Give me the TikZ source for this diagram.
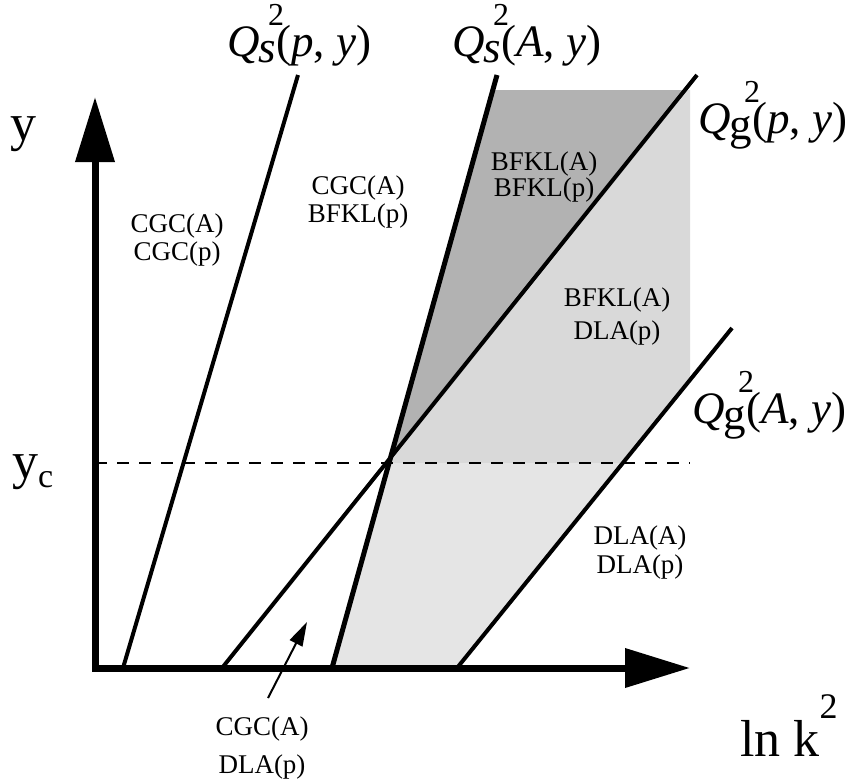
\documentclass[tikz,border=0pt]{standalone}
\usepackage{amsmath}
\usepackage{fontspec}
\setmainfont{Liberation Serif}
\usetikzlibrary{arrows.meta}
\definecolor{darkband}{gray}{0.70}
\definecolor{upperband}{gray}{0.85}
\definecolor{lowerband}{gray}{0.90}
\newcommand{\scalesq}{\rlap{\kern-8pt\raisebox{0.68em}{\fontsize{32}{32}\selectfont 2}}}
\newcommand{\qscale}[2]{\textit{Q}\kern-1pt\raisebox{-0.15em}{#1}\scalesq(#2)}
\tikzset{
  regime/.style={font=\fontsize{27}{28}\selectfont, align=center, inner sep=0pt},
  scalelabel/.style={font=\fontsize{45}{50}\selectfont, anchor=base west, inner sep=0pt},
  axislabel/.style={font=\fontsize{52}{56}\selectfont, anchor=base west, inner sep=0pt},
  boundary/.style={line width=4pt},
  axis/.style={line width=7pt, {Triangle[length=65pt,width=38pt]}-{Triangle[length=65pt,width=38pt]}},
  pointer/.style={line width=2pt, -{Triangle[length=24pt,width=14pt]}}
}

\begin{document}
\begin{tikzpicture}[x=1pt, y=-1pt]
  \useasboundingbox (0,0) rectangle (849,780);

  % shaded regions
  \fill[darkband] (387.5,463) -- (492.8,90) -- (685,90) -- cycle;
  \fill[upperband] (387.5,463) -- (685,90) -- (690,90) -- (690,380) -- (623,463) -- cycle;
  \fill[lowerband] (387.5,463) -- (332,668) -- (457,668) -- (623,463) -- cycle;

  % y_c level
  \draw[line width=1.5pt, dash pattern=on 12pt off 10pt] (95,463) -- (690,463);

  % saturation and geometric scaling lines
  \coordinate (qspBot) at (123,668);
  \coordinate (qspTop) at (298,75);
  \coordinate (qsaBot) at (332,668);
  \coordinate (qsaTop) at (497,75);
  \coordinate (qgpBot) at (222,668);
  \coordinate (qgpTop) at (697,75);
  \coordinate (qgaBot) at (457,668);
  \coordinate (qgaTop) at (732,328);
  \draw[boundary] (qspBot) -- (qspTop);
  \draw[boundary, line width=5pt] (qsaBot) -- (qsaTop);
  \draw[boundary] (qgpBot) -- (qgpTop);
  \draw[boundary] (qgaBot) -- (qgaTop);

  % axes
  \draw[axis] (95,97) -- (95,668) -- (690,668);

  \node[axislabel] (ylab) at (10,140) {y};
  \node[axislabel] (yclab) at (12,478) {y\raisebox{-0.19em}{\fontsize{34}{34}\selectfont c}};
  \node[axislabel] (klab) at (740,756) {ln k\raisebox{0.72em}{\fontsize{36}{36}\selectfont 2}};

  \node[scalelabel] (qsp) at (227,56) {\qscale{\textit{s}}{\textit{p}, \textit{y}}};
  \node[scalelabel] (qsa) at (452,56) {\qscale{\textit{s}}{\textit{A}, \textit{y}}};
  \node[scalelabel] (qgp) at (698,133) {\qscale{g}{\textit{p}, \textit{y}}};
  \node[scalelabel] (qga) at (692,423) {\qscale{g}{\textit{A}, \textit{y}}};

  % regimes
  \node[regime] (cgcCgc) at (177,240) {CGC(A)\\CGC(p)};
  \node[regime] (cgcBfkl) at (358,202) {CGC(A)\\BFKL(p)};
  \node[regime] (bfklBfkl) at (544,177) {BFKL(A)\\[-2pt]BFKL(p)};
  \node[regime] (bfklDla) at (617,316) {BFKL(A)\\[5pt]DLA(p)};
  \node[regime] (dlaDla) at (640,552) {DLA(A)\\[1pt]DLA(p)};
  \node[regime] (cgcDla) at (262,748) {CGC(A)\\[10pt]DLA(p)};

  \coordinate (pointerTail) at (268,698);
  \coordinate (pointerTip) at (307,622);
  \draw[pointer] (pointerTail) -- (pointerTip);
\end{tikzpicture}
\end{document}
